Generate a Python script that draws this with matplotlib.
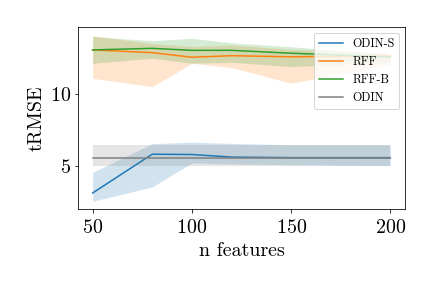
import matplotlib
matplotlib.use("Agg")
import matplotlib.pyplot as plt
import numpy as np

plt.rcParams['font.family'] = 'serif'
plt.rcParams['font.serif'] = ['cmr10']
plt.rcParams['mathtext.fontset'] = 'cm'
plt.rcParams['axes.formatter.use_mathtext'] = True
plt.rcParams['axes.unicode_minus'] = False

x = [50, 80, 100, 120, 150, 200]

odin_s = [3.1, 5.8, 5.78, 5.6, 5.56, 5.56]
odin_s_lo = [2.52, 3.52, 5.19, 5.12, 5.07, 5.0]
odin_s_hi = [4.54, 6.53, 6.64, 6.55, 6.46, 6.46]

rff = [13.06, 12.87, 12.55, 12.66, 12.58, 12.64]
rff_lo = [11.09, 10.5, 12.13, 11.83, 10.74, 12.05]
rff_hi = [14.05, 13.5, 13.3, 13.4, 13.1, 12.85]

rffb = [13.06, 13.17, 13.03, 13.03, 12.83, 12.57]
rffb_lo = [12.13, 12.48, 12.13, 12.2, 11.9, 12.2]
rffb_hi = [13.98, 13.7, 13.87, 13.55, 13.28, 12.75]

odin = [5.56, 5.56, 5.56, 5.56, 5.56, 5.56]
odin_lo = [5.0, 5.0, 5.0, 5.0, 5.0, 5.0]
odin_hi = [6.46, 6.46, 6.46, 6.46, 6.46, 6.46]

fig, ax = plt.subplots(figsize=(6, 4), dpi=72)

series = [
    ("ODIN-S", odin_s, odin_s_lo, odin_s_hi, "C0"),
    ("RFF", rff, rff_lo, rff_hi, "C1"),
    ("RFF-B", rffb, rffb_lo, rffb_hi, "C2"),
    ("ODIN", odin, odin_lo, odin_hi, "C7"),
]
for name, y, lo, hi, c in series:
    ax.plot(x, y, color=c, label=name, lw=1.5)
    ax.fill_between(x, lo, hi, color=c, alpha=0.2, lw=0)

ax.set_xlim(42.5, 207.5)
ax.set_ylim(2.0, 14.65)
ax.set_xticks([50, 100, 150, 200])
ax.set_yticks([5, 10])
ax.tick_params(labelsize=20)
ax.tick_params(axis='x', pad=7)
ax.set_xlabel("n features", fontsize=20, labelpad=5)
ax.set_ylabel("tRMSE", fontsize=20)
ax.legend(loc="upper right", fontsize=12)

fig.subplots_adjust(left=0.18, right=0.938, top=0.906, bottom=0.275)
fig.savefig("out.png", dpi=72)
